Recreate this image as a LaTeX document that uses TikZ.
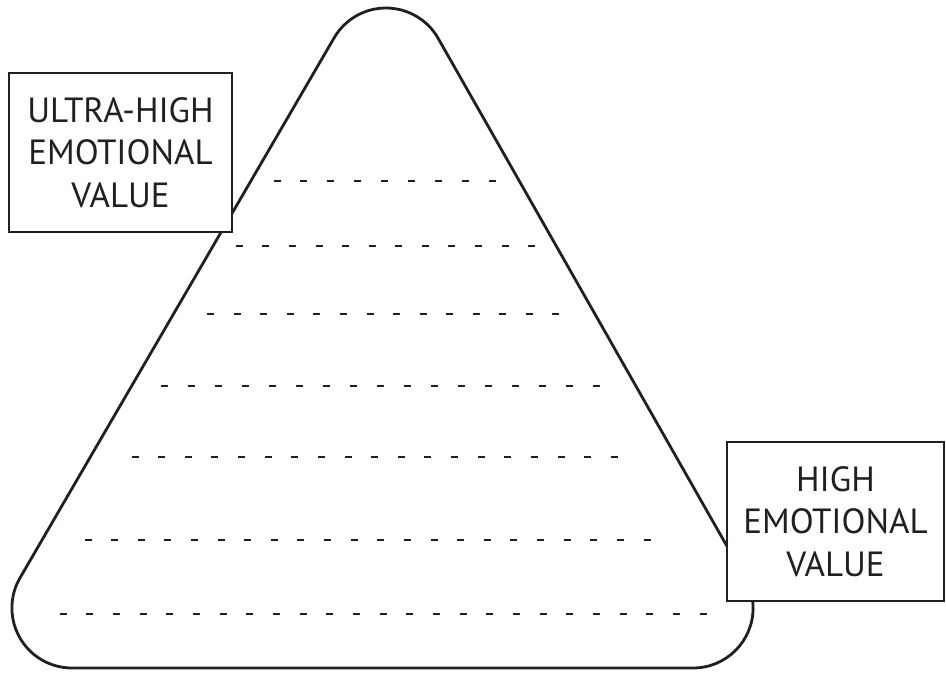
\documentclass[tikz,border=0pt]{standalone}
\usepackage{fontspec}
\setmainfont{PT Sans}
\definecolor{ink}{HTML}{231F20}
\begin{document}
\begin{tikzpicture}[x=1pt,y=1pt,
  labelbox/.style={draw=ink, line width=1.5pt, fill=white, inner sep=0pt, align=center, text=ink, font=\fontsize{35}{42.5}\selectfont},
  tri/.style={draw=ink, line width=2.8pt},
  dashmark/.style={draw=ink, line width=#1}]
\useasboundingbox (0,0) rectangle (946,673);
% rounded triangle
\draw[tri] (71.9,5) -- (693.1,5) arc[start angle=-90,end angle=30,radius=60]
  -- (437.96,635) arc[start angle=30,end angle=150,radius=60]
  -- (19.94,95) arc[start angle=150,end angle=270,radius=60] -- cycle;
% dashed rows
\foreach \yy/\xa/\s/\n/\w in {492/277/26.875/8/1.8, 427/239.3/26.58/11/1.8, 359/210.7/26.56/13/1.8, 287/164/27.04/16/2.8, 216/135/26.63/18/2.0, 133/88/26.62/21/2.0, 59/63/26.67/24/1.8}{
  \foreach \i in {0,...,\n}{
    \draw[dashmark=\w pt] (\xa+\i*\s-3.5,\yy) -- ++(7,0);
  }
}
% label boxes
\node[labelbox, minimum width=223pt, minimum height=159pt] (ultra) at (120.5,520.5) {ULTRA-HIGH\\EMOTIONAL\\VALUE};
\node[labelbox, minimum width=217pt, minimum height=159pt] (high) at (835.5,151.5) {HIGH\\EMOTIONAL\\VALUE};
\end{tikzpicture}
\end{document}
